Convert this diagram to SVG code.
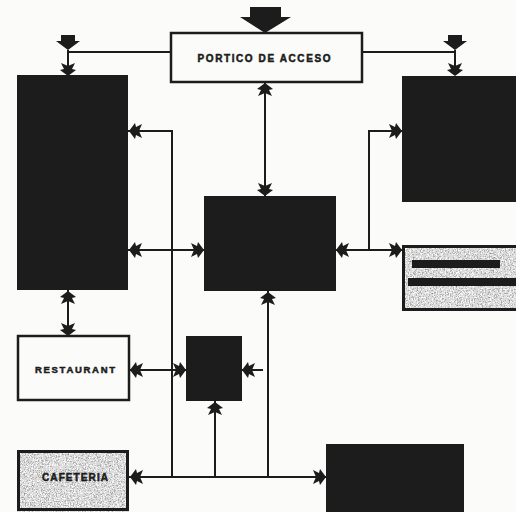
<svg xmlns="http://www.w3.org/2000/svg" xmlns:xlink="http://www.w3.org/1999/xlink" width="516" height="512" viewBox="0 0 516 512">
<style>
.blk{fill:#1c1c1c}
.box{fill:#fbfbf9;stroke:#1c1c1c;stroke-width:2.5}
.tex{stroke:#1c1c1c;stroke-width:3}
.ln{fill:none;stroke:#1c1c1c;stroke-width:2}
.ar{fill:#1c1c1c}
.lbl{font-family:"Liberation Sans",Arial,sans-serif;font-weight:bold;fill:#1c1c1c;stroke:#1c1c1c;stroke-width:0.5}
</style>
<defs>
<polygon id="arr" points="0,0 -8,-6 -4,-7 -7,-13 0,-10 7,-13 4,-7 8,-6"/>
<filter id="grain" x="0" y="0" width="100%" height="100%">
<feTurbulence type="fractalNoise" baseFrequency="0.75" numOctaves="2" seed="4" result="n"/>
<feColorMatrix in="n" type="matrix" values="1 0 0 0 0  1 0 0 0 0  1 0 0 0 0  0 0 0 0 1" result="g"/>
<feComponentTransfer in="g" result="d">
<feFuncR type="discrete" tableValues="0.25 0.45 0.7 0.92 1"/>
<feFuncG type="discrete" tableValues="0.25 0.45 0.7 0.92 1"/>
<feFuncB type="discrete" tableValues="0.25 0.45 0.7 0.92 1"/>
</feComponentTransfer>
<feComposite in="d" in2="SourceGraphic" operator="in"/>
</filter>
</defs>
<rect width="516" height="512" fill="#fbfbf9"/>

<g id="connectors">
<path class="ln" d="M68,50 V72 M68,52 H170"/>
<path class="ln" d="M455,50 V72 M362,52 H455"/>
<path class="ln" d="M265,82 V196"/>
<path class="ln" d="M128,131 H172 V477"/>
<path class="ln" d="M402,131 H369 V250"/>
<path class="ln" d="M128,250 H204 M336,250 H402"/>
<path class="ln" d="M68,290 V336"/>
<path class="ln" d="M268,291 V477"/>
<path class="ln" d="M129,370 H186 M242,370 H263"/>
<path class="ln" d="M215,401 V477"/>
<path class="ln" d="M129,477 H326"/>
<polygon class="ar" points="250,7 281,7 281,17 291,17 265,33 240,17 250,17"/>
<polygon class="ar" points="61,35 75,35 75,41 80,41 68,50 56,41 61,41"/>
<polygon class="ar" points="448,35 462,35 462,41 467,41 455,50 443,41 448,41"/>
<use href="#arr" class="ar" transform="translate(68,76)"/>
<use href="#arr" class="ar" transform="translate(455,76)"/>
<use href="#arr" class="ar" transform="translate(265,83) rotate(180)"/>
<use href="#arr" class="ar" transform="translate(265,196)"/>
<use href="#arr" class="ar" transform="translate(129,131) rotate(90)"/>
<use href="#arr" class="ar" transform="translate(402,131) rotate(-90)"/>
<use href="#arr" class="ar" transform="translate(129,250) rotate(90)"/>
<use href="#arr" class="ar" transform="translate(204,250) rotate(-90)"/>
<use href="#arr" class="ar" transform="translate(336,250) rotate(90)"/>
<use href="#arr" class="ar" transform="translate(402,250) rotate(-90)"/>
<use href="#arr" class="ar" transform="translate(68,291) rotate(180)"/>
<use href="#arr" class="ar" transform="translate(68,336)"/>
<use href="#arr" class="ar" transform="translate(268,292) rotate(180)"/>
<use href="#arr" class="ar" transform="translate(130,370) rotate(90)"/>
<use href="#arr" class="ar" transform="translate(186,370) rotate(-90)"/>
<use href="#arr" class="ar" transform="translate(242,370) rotate(90)"/>
<use href="#arr" class="ar" transform="translate(215,402) rotate(180)"/>
<use href="#arr" class="ar" transform="translate(130,477) rotate(90)"/>
<use href="#arr" class="ar" transform="translate(326,477) rotate(-90)"/>
</g>

<g id="portico">
<rect class="box" x="171" y="33" width="191" height="49"/>
<text class="lbl" x="264" y="62" font-size="10" text-anchor="middle" textLength="133" lengthAdjust="spacing">PORTICO DE ACCESO</text>
</g>
<g id="left-block"><rect class="blk" x="17" y="75" width="111" height="215"/></g>
<g id="right-block"><rect class="blk" x="402" y="76" width="114" height="126"/></g>
<g id="center-block"><rect class="blk" x="204" y="196" width="132" height="95"/></g>
<g id="textured-box">
<rect x="402" y="245" width="116" height="66" fill="#888" filter="url(#grain)"/>
<rect class="tex" x="403.5" y="246.5" width="114" height="63" fill="none"/>
<rect class="blk" x="412" y="260" width="88" height="8"/>
<rect class="blk" x="408" y="278" width="108" height="8"/>
</g>
<g id="restaurant">
<rect class="box" x="18" y="336" width="111" height="64"/>
<text class="lbl" x="75" y="373" font-size="9.5" text-anchor="middle" textLength="80" lengthAdjust="spacing">RESTAURANT</text>
</g>
<g id="small-block"><rect class="blk" x="186" y="336" width="56" height="65"/></g>
<g id="cafeteria">
<rect x="17" y="450" width="112" height="62" fill="#888" filter="url(#grain)"/>
<rect class="tex" x="18.5" y="451.5" width="109" height="58" fill="none"/>
<text class="lbl" x="75" y="481" font-size="10" text-anchor="middle" textLength="66" lengthAdjust="spacing" stroke-width="1">CAFETERIA</text>
</g>
<g id="bottom-right-block"><rect class="blk" x="326" y="444" width="138" height="68"/></g>
</svg>
